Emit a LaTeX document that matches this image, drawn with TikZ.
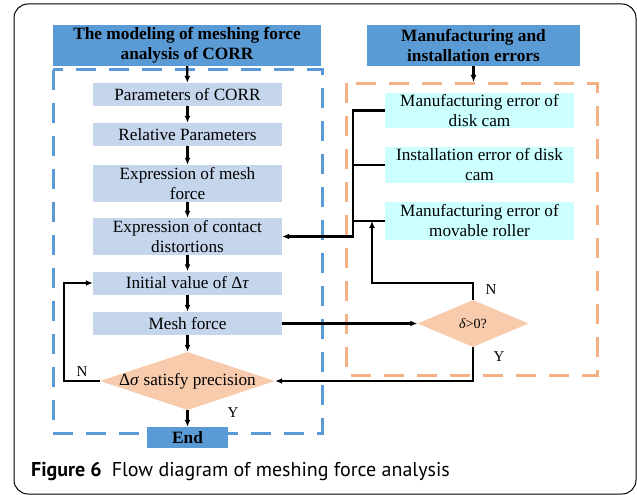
\documentclass[tikz,border=0pt]{standalone}
\usepackage{fontspec}
\setmainfont{Liberation Serif}
\newfontfamily\capfont{PT Sans}
\usetikzlibrary{shapes.geometric,arrows.meta}

\definecolor{hdrblue}{RGB}{91,155,213}
\definecolor{stepblue}{RGB}{197,214,236}
\definecolor{errcyan}{RGB}{204,255,255}
\definecolor{decsalmon}{RGB}{248,203,173}
\definecolor{frameorange}{RGB}{244,177,131}

\begin{document}
\begin{tikzpicture}[x=1pt,y=-1pt,
    hdrbox/.style={fill=hdrblue,inner sep=0pt,minimum width=268pt,minimum height=41pt,
        align=center,font=\fontsize{17.3}{20}\selectfont\bfseries},
    stepbox/.style={fill=stepblue,inner sep=0pt,minimum width=189pt,minimum height=23pt,
        align=center,font=\fontsize{17.2}{20}\selectfont},
    errbox/.style={fill=errcyan,inner sep=0pt,minimum width=189pt,
        align=center,font=\fontsize{17.2}{20}\selectfont},
    decision/.style={diamond,fill=decsalmon,inner sep=0pt},
    link/.style={line width=2.2pt,-{Latex[length=7pt,width=6pt]}},
    plain/.style={line width=2.2pt},
    lbl/.style={font=\fontsize{15}{18}\selectfont}]
    \useasboundingbox (0,0) rectangle (637,495);

    % Outer frame
    \draw[line width=1pt,rounded corners=14pt] (14,4) rectangle (636,494);

    % Dashed frames
    \draw[hdrblue,line width=3pt,dash pattern=on 20pt off 13pt] (53,70) rectangle (322,433);
    \draw[frameorange,line width=3pt,dash pattern=on 20pt off 13pt] (346,83) rectangle (597,375);

    % Headers
    \node[hdrbox] (hdrL) at (187,45.5) {The modeling of meshing force\\analysis of CORR};
    \node[hdrbox,minimum width=213pt] (hdrR) at (473.5,45.5) {Manufacturing and\\installation errors};

    % Modeling steps
    \node[stepbox] (pars) at (187.5,94.5) {Parameters of CORR};
    \node[stepbox] (rel) at (187.5,134.5) {Relative Parameters};
    \node[stepbox,minimum height=37pt] (mesh) at (187.5,183.5) {Expression of mesh\\force};
    \node[stepbox,minimum height=37pt] (cont) at (187.5,236.5) {Expression of contact\\distortions};
    \node[stepbox] (init) at (187.5,283) {Initial value of Δ\textit{τ}};
    \node[stepbox] (force) at (187.5,323.5) {Mesh force};
    \node[decision,minimum width=175pt,minimum height=58pt] (prec) at (187.5,381)
        {\fontsize{17.2}{20}\selectfont\makebox[0pt]{Δ\textit{σ} satisfy precision}};
    \node[hdrbox,minimum width=81pt,minimum height=21pt] (end) at (187.5,437.5) {End};

    % Errors
    \node[errbox,minimum height=35pt] (camM) at (479.5,110.5) {Manufacturing error of\\disk cam};
    \node[errbox,minimum height=36pt] (camI) at (479.5,165) {Installation error of disk\\cam};
    \node[errbox,minimum height=38pt] (roll) at (479.5,221) {Manufacturing error of\\movable roller};
    \node[decision,minimum width=111pt,minimum height=47pt] (delta) at (473,323.5)
        {\fontsize{14}{16}\selectfont\makebox[0pt]{\textit{δ}>0?}};

    % Turning points
    \coordinate (ofTop) at (473.5,82);
    \coordinate (bus) at (353,236.5);
    \coordinate (nTurn) at (372,283);

    % Main flow
    \draw[link] (hdrL) -- (pars);
    \draw[link] (pars) -- (rel);
    \draw[link] (rel) -- (mesh);
    \draw[link] (mesh) -- (cont);
    \draw[link] (cont) -- (init);
    \draw[link] (init) -- (force);
    \draw[link] (force) -- (prec);
    \draw[link] (prec) -- (end);
    \draw[link] (hdrR) -- (ofTop);

    % Error bus
    \draw[link] (camM.west) -| (bus) -- (cont.east);
    \draw[plain] (camI.west) -- (camI.west -| bus);
    \draw[plain] (roll.west) -- (roll.west -| bus);

    % Decisions
    \draw[link] (force) -- (delta);
    \draw[link] (delta.north) |- (nTurn) -- (nTurn |- roll.west);
    \draw[link] (delta.south) |- (prec.east);
    \draw[link] (prec.west) -- ++(-36,0) |- (init.west);
    \node[lbl] (nD) at (491,290) {N};
    \node[lbl] (yD) at (499,357) {Y};
    \node[lbl] (nP) at (82,372) {N};
    \node[lbl] (yP) at (233,413) {Y};

    % Caption
    \node[anchor=base west,inner sep=0pt,font=\capfont\fontsize{20}{22}\selectfont] (cap) at (31,476)
        {\textbf{Figure 6}\hspace{0.5em}Flow diagram of meshing force analysis};
\end{tikzpicture}
\end{document}
